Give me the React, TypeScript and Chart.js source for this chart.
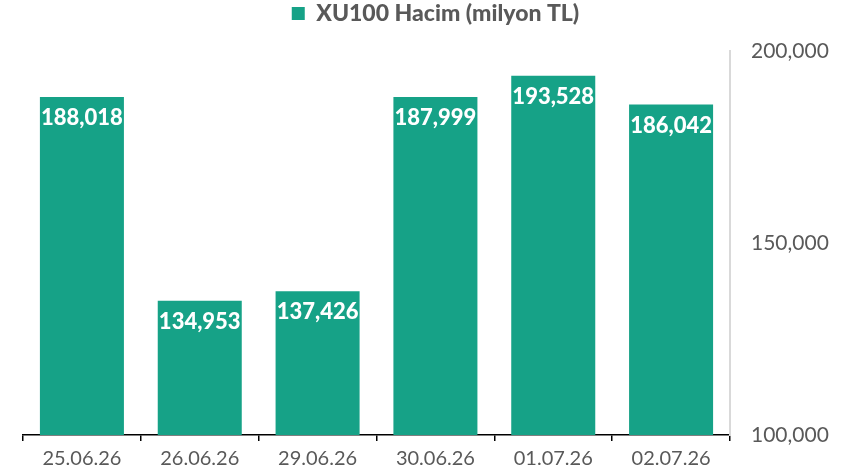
import React, { useEffect, useRef } from "react";
import { Chart, registerables } from "chart.js";

Chart.register(...registerables);

const categories = ["25.06.26", "26.06.26", "29.06.26", "30.06.26", "01.07.26", "02.07.26"];
const volumes = [188018, 134953, 137426, 187999, 193528, 186042];
const seriesName = "XU100 Hacim (milyon TL)";
const yTicks = [100000, 150000, 200000];

const TEAL = "#16A287";
const GRAY = "#595959";
const FONT = "Lato, 'Open Sans', sans-serif";

const fmt = (v: number) => v.toLocaleString("en-US");

const barLabels = {
  id: "barLabels",
  afterDatasetsDraw(chart: any) {
    const { ctx } = chart;
    const meta = chart.getDatasetMeta(0);
    ctx.save();
    ctx.fillStyle = "#ffffff";
    ctx.font = `900 22px ${FONT}`;
    ctx.textAlign = "center";
    ctx.textBaseline = "middle";
    meta.data.forEach((bar: any, i: number) => {
      ctx.fillText(fmt(volumes[i]), bar.x, bar.y + 21);
    });
    ctx.restore();
  },
};

const legendGap = {
  id: "legendGap",
  beforeInit(chart: any) {
    const legend = chart.legend;
    if (!legend) return;
    const origFit = legend.fit;
    legend.fit = function () {
      origFit.call(this);
      this.height += 16;
    };
  },
};

export default function App() {
  const ref = useRef<HTMLCanvasElement>(null);
  useEffect(() => {
    if (!ref.current) return;
    const chart = new Chart(ref.current, {
      type: "bar",
      data: {
        labels: categories,
        datasets: [
          {
            label: seriesName,
            data: volumes,
            backgroundColor: TEAL,
            borderWidth: 0,
            categoryPercentage: 1,
            barPercentage: 0.713,
          },
        ],
      },
      options: {
        animation: false,
        responsive: true,
        maintainAspectRatio: false,
        layout: { padding: { left: 23, right: 0, top: 0, bottom: 0 } },
        plugins: {
          tooltip: { enabled: false },
          legend: {
            position: "top",
            labels: {
              color: GRAY,
              font: { family: FONT, size: 23, weight: "900" },
              boxWidth: 13,
              boxHeight: 13,
              padding: 2,
            },
          },
        },
        scales: {
          x: {
            offset: true,
            grid: {
              offset: true,
              drawOnChartArea: false,
              drawTicks: true,
              tickLength: 6,
              color: "#000000",
              lineWidth: 1.5,
            },
            border: { display: true, color: "#000000", width: 1.5 },
            ticks: {
              color: GRAY,
              font: { family: FONT, size: 20 },
              padding: 6,
              maxRotation: 0,
            },
            afterFit: (scale: any) => {
              scale.height = 40;
            },
          },
          y: {
            position: "right",
            min: 100000,
            max: 200000,
            afterBuildTicks: (scale: any) => {
              scale.ticks = yTicks.map((v) => ({ value: v }));
            },
            grid: { display: false, drawTicks: false },
            border: { display: true, color: "#d9d9d9", width: 2 },
            ticks: {
              color: GRAY,
              font: { family: FONT, size: 21 },
              padding: 21,
              callback: (v: any) => fmt(Number(v)),
            },
            afterFit: (scale: any) => {
              scale.width = 118;
            },
          },
        },
      },
      plugins: [barLabels, legendGap],
    });
    return () => chart.destroy();
  }, []);
  return (
    <div style={{ position: "fixed", left: 0, top: 0, width: 848, height: 475, background: "#fff" }}>
      <canvas ref={ref} />
    </div>
  );
}
